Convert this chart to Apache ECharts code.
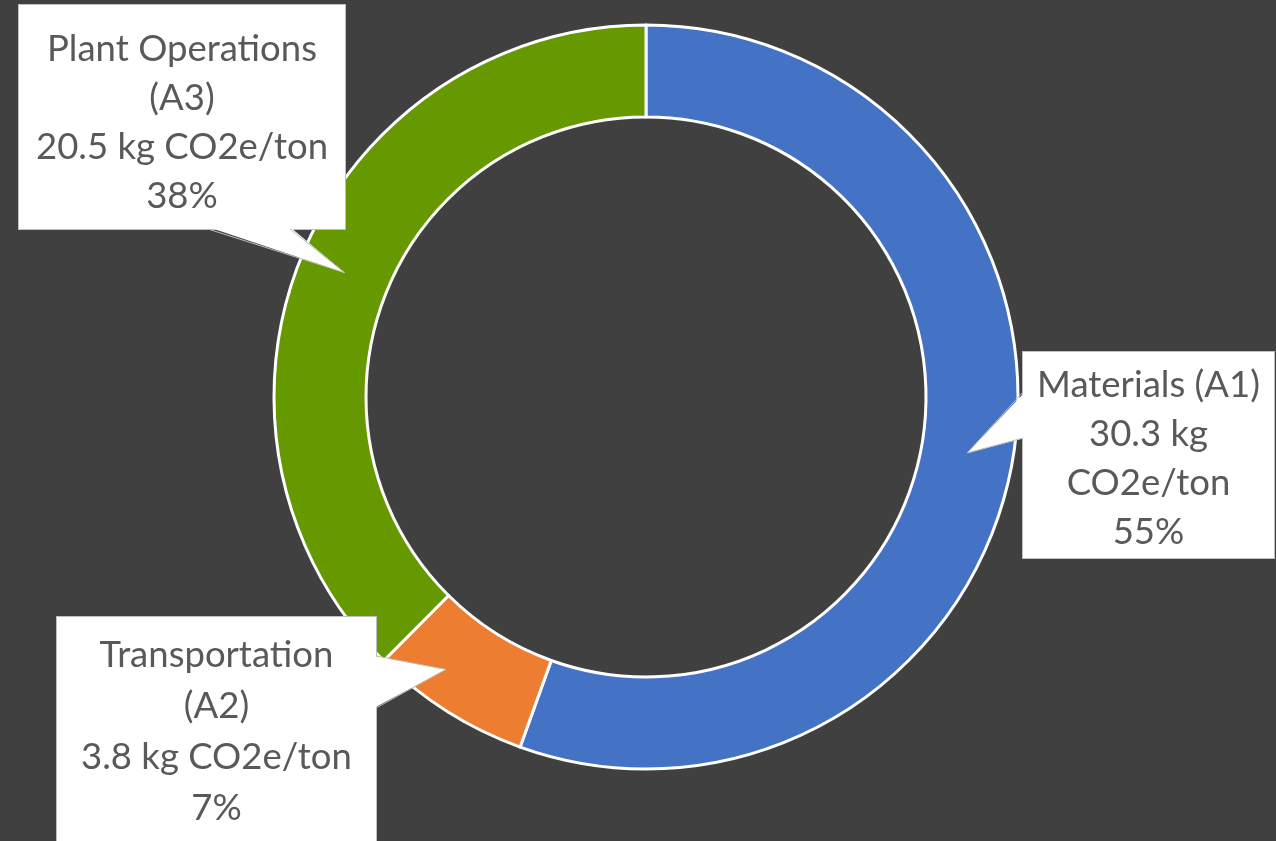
<!DOCTYPE html>
<html>
<head>
<meta charset="utf-8">
<script src="https://cdn.jsdelivr.net/npm/echarts@6/dist/echarts.min.js"></script>
<style>
html,body{margin:0;padding:0;background:#404040;}
#chart{width:1276px;height:841px;}
</style>
</head>
<body>
<div id="chart"></div>
<script>
// ---- data ----
const categories = ['Materials (A1)', 'Transportation (A2)', 'Plant Operations (A3)'];
const values = [30.3, 3.8, 20.5];
const unitLabel = 'kg CO2e/ton';

// ---- style ----
const colors = ['#4472C4', '#ED7D31', '#669900'];
const nameBreak = [false, true, true];   // break "Name\n(Ax)"
const unitBreak = [true, false, false];  // break "30.3 kg\nCO2e/ton"
const boxes = [
  {x: 1023, y: 352, w: 251, h: 206, pt: 9,  lh: 49, base: [[1023, 392], [1023, 438]], inset: [1, 0],  tipR: 326, tipShift: 0},
  {x: 57,   y: 617, w: 319, h: 240, pt: 13, lh: 51, base: [[376, 656], [376, 708]],   inset: [-1, 0], tipR: 338, tipShift: 4},
  {x: 19,   y: 5,   w: 326, h: 224, pt: 20, lh: 49, base: [[208, 229], [290, 229]],   inset: [0, -1], tipR: 326, tipShift: 0}
];
const CX = 646, CY = 397, R_IN = 280, R_OUT = 372;

const total = values.reduce((a, b) => a + b, 0);

const chart = echarts.init(document.getElementById('chart'));

const data = categories.map((name, i) => {
  const b = boxes[i];
  return {
    name: name,
    value: values[i],
    itemStyle: {color: colors[i]},
    label: {
      width: b.w,
      height: b.h - b.pt,
      padding: [b.pt, 0, 0, 0],
      lineHeight: b.lh
    }
  };
});

// pointer tips inside each slice's ring, at the slice's middle angle
const pointerGraphics = [];
let acc = 0;
values.forEach((v, i) => {
  const b = boxes[i];
  const mid = (acc + v / 2) / total * Math.PI * 2 + b.tipShift * Math.PI / 180;
  acc += v;
  const r = b.tipR;
  const tip = [CX + r * Math.sin(mid), CY - r * Math.cos(mid)];
  const p1 = b.base[0], p2 = b.base[1];
  const ins = b.inset;
  pointerGraphics.push({
    type: 'polygon', z: 100, silent: true,
    shape: {points: [[p1[0] + ins[0] * 2, p1[1] + ins[1] * 2], tip, [p2[0] + ins[0] * 2, p2[1] + ins[1] * 2]]},
    style: {fill: '#ffffff', stroke: null}
  });
  pointerGraphics.push({
    type: 'polyline', z: 101, silent: true,
    shape: {points: [p1, tip, p2]},
    style: {stroke: '#bfbfbf', lineWidth: 1, fill: null}
  });
});

const option = {
  backgroundColor: '#404040',
  animation: false,
  series: [{
    type: 'pie',
    center: [CX, CY],
    radius: [R_IN, R_OUT],
    startAngle: 90,
    clockwise: true,
    silent: true,
    itemStyle: {borderColor: '#ffffff', borderWidth: 3},
    label: {
      show: true,
      position: 'outside',
      formatter: function (p) {
        const i = p.dataIndex;
        const nm = nameBreak[i] ? p.name.replace(' (', '\n(') : p.name;
        const parts = unitLabel.split(' ');
        const val = p.value + ' ' + parts[0] + (unitBreak[i] ? '\n' : ' ') + parts.slice(1).join(' ');
        return nm + '\n' + val + '\n' + Math.round(p.percent) + '%';
      },
      color: '#595959',
      fontFamily: 'Lato',
      fontSize: 36.5,
      align: 'center',
      backgroundColor: '#ffffff',
      borderColor: '#bfbfbf',
      borderWidth: 1
    },
    labelLine: {show: false},
    labelLayout: function (params) {
      const b = boxes[params.dataIndex];
      return {x: b.x + b.w / 2, y: b.y, align: 'center', verticalAlign: 'top'};
    },
    percentPrecision: 0,
    data: data
  }],
  graphic: pointerGraphics
};
chart.setOption(option);
</script>
</body>
</html>
